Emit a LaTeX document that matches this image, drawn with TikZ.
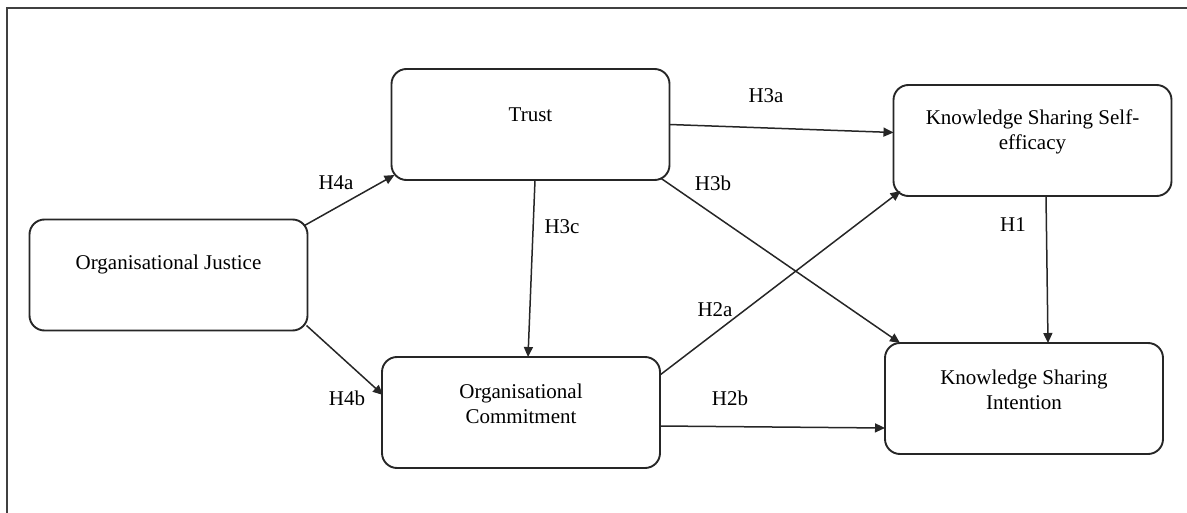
\documentclass[tikz,border=0pt]{standalone}
\usepackage{fontspec}
\setmainfont{Liberation Serif}
\usetikzlibrary{arrows.meta}
\begin{document}
\begin{tikzpicture}[x=0.5pt,y=-0.5pt,
  box/.style={draw=black!85, line width=0.95pt, rounded corners=7.5pt,
    minimum width=139pt, minimum height=55.5pt, inner sep=0pt, outer sep=0pt},
  boxtext/.style={align=center, font=\fontsize{10.5}{12.5}\selectfont, inner sep=0pt},
  link/.style={draw=black!85, line width=0.75pt, -{Triangle[length=5pt,width=4.5pt]}},
  hyp/.style={font=\fontsize{10.5}{12.5}\selectfont, inner sep=0pt}]
\useasboundingbox (0,0) rectangle (1187,513);

% outer frame (top and left edges)
\draw[line width=1pt, black!75] (1190,8) -- (7,8) -- (7,516);

% constructs
\node[box] (oj)    at (168.5,275)   {};
\node[box] (trust) at (530.5,124.5) {};
\node[box] (ksse)  at (1032.5,140.5) {};
\node[box] (oc)    at (521,412.5)   {};
\node[box] (ksi)   at (1024,398.5)  {};

\node[boxtext] (ojt)    at ([shift={(0,45)}]oj.north)    {Organisational Justice};
\node[boxtext] (trustt) at ([shift={(0,46)}]trust.north) {Trust};
\node[boxtext] (ksset)  at ([shift={(0,47)}]ksse.north)  {Knowledge Sharing Self-\\efficacy};
\node[boxtext] (oct)    at ([shift={(0,47)}]oc.north)    {Organisational\\Commitment};
\node[boxtext] (ksit)   at ([shift={(0,47)}]ksi.north)   {Knowledge Sharing\\Intention};

% hypothesised paths
\draw[link] ([shift={(-3,6)}]oj.north east) -- ([shift={(3,-5)}]trust.south west);
\draw[link] ([shift={(-1,-5)}]oj.south east) -- ([shift={(1,38)}]oc.north west);
\draw[link] ([shift={(4.5,0)}]trust.south) -- ([shift={(7,0)}]oc.north);
\draw[link] (trust.east) -- ([shift={(0,-8)}]ksse.west);
\draw[link] ([shift={(-9,-2)}]trust.south east) -- ([shift={(15,0)}]ksi.north west);
\draw[link] ([shift={(0,18)}]oc.north east) -- ([shift={(7,-5)}]ksse.south west);
\draw[link] ([shift={(0,13.5)}]oc.east) -- ([shift={(0,29.5)}]ksi.west);
\draw[link] ([shift={(13.5,0)}]ksse.south) -- ([shift={(24,0)}]ksi.north);

% path labels
\node[hyp] (h4a) at (336,183)  {H4a};
\node[hyp] (h4b) at (347,398)  {H4b};
\node[hyp] (h3c) at (562,227)  {H3c};
\node[hyp] (h3a) at (766,96)   {H3a};
\node[hyp] (h3b) at (713,183)  {H3b};
\node[hyp] (h2a) at (715,310)  {H2a};
\node[hyp] (h2b) at (730,398)  {H2b};
\node[hyp] (h1)  at (1013,225) {H1};
\end{tikzpicture}
\end{document}
